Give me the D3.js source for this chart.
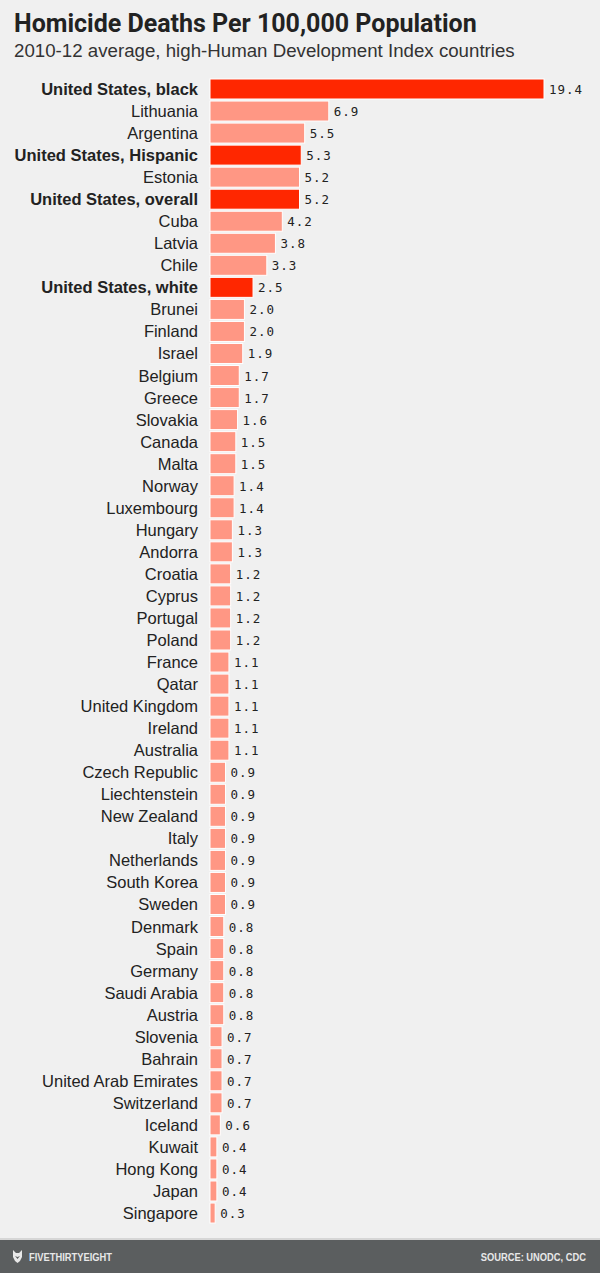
<!DOCTYPE html>
<html>
<head>
    <meta charset="utf-8">
    <title>Homicide Deaths Per 100,000 Population</title>
    <script src="https://cdn.jsdelivr.net/npm/d3@7/dist/d3.min.js"></script>
    <style>
        body { margin: 0; background: #f0f0f0; }
        svg { display: block; }
    </style>
</head>
<body>
<script>
// data
var countries = ["United States, black", "Lithuania", "Argentina", "United States, Hispanic", "Estonia",
    "United States, overall", "Cuba", "Latvia", "Chile", "United States, white", "Brunei", "Finland",
    "Israel", "Belgium", "Greece", "Slovakia", "Canada", "Malta", "Norway", "Luxembourg", "Hungary",
    "Andorra", "Croatia", "Cyprus", "Portugal", "Poland", "France", "Qatar", "United Kingdom", "Ireland",
    "Australia", "Czech Republic", "Liechtenstein", "New Zealand", "Italy", "Netherlands", "South Korea",
    "Sweden", "Denmark", "Spain", "Germany", "Saudi Arabia", "Austria", "Slovenia", "Bahrain",
    "United Arab Emirates", "Switzerland", "Iceland", "Kuwait", "Hong Kong", "Japan", "Singapore"];
var rates = [19.4, 6.9, 5.5, 5.3, 5.2, 5.2, 4.2, 3.8, 3.3, 2.5, 2.0, 2.0,
    1.9, 1.7, 1.7, 1.6, 1.5, 1.5, 1.4, 1.4, 1.3,
    1.3, 1.2, 1.2, 1.2, 1.2, 1.1, 1.1, 1.1, 1.1,
    1.1, 0.9, 0.9, 0.9, 0.9, 0.9, 0.9,
    0.9, 0.8, 0.8, 0.8, 0.8, 0.8, 0.7, 0.7,
    0.7, 0.7, 0.6, 0.4, 0.4, 0.4, 0.3];
var highlighted = ["United States, black", "United States, Hispanic", "United States, overall", "United States, white"];

var width = 600, height = 1273;
var rowStep = 22.04, barH = 20;
var data = countries.map(function (c, i) { return { name: c, value: rates[i] }; });

var svg = d3.select("body").append("svg")
    .attr("width", width)
    .attr("height", height);

svg.append("rect").attr("width", width).attr("height", height).attr("fill", "#f0f0f0");

// title block
svg.append("text")
    .attr("x", 14).attr("y", 32)
    .attr("font-family", "Roboto, 'Noto Sans', sans-serif")
    .attr("font-weight", 700)
    .attr("font-size", 25)
    .attr("fill", "#222")
    .text("Homicide Deaths Per 100,000 Population");

svg.append("text")
    .attr("x", 14).attr("y", 57)
    .attr("font-family", "'Liberation Sans', Arial, sans-serif")
    .attr("font-size", 18.7)
    .attr("fill", "#333")
    .text("2010-12 average, high-Human Development Index countries");

// scales
var x = d3.scaleLinear().domain([0, 19.4]).range([210, 544]);
var y = d3.scaleBand()
    .domain(countries)
    .range([79, 79 + rowStep * countries.length - (rowStep - barH)])
    .paddingInner((rowStep - barH) / rowStep)
    .paddingOuter(0);

var rows = svg.append("g").selectAll("g")
    .data(data)
    .enter().append("g");

rows.append("rect")
    .attr("x", x(0))
    .attr("y", function (d) { return y(d.name); })
    .attr("width", function (d) { return x(d.value) - x(0); })
    .attr("height", y.bandwidth())
    .attr("fill", function (d) { return highlighted.indexOf(d.name) >= 0 ? "#ff2700" : "#ff9784"; })
    .attr("stroke", "#fff")
    .attr("stroke-width", 1);

rows.append("text")
    .attr("x", 198)
    .attr("y", function (d) { return y(d.name) + y.bandwidth() / 2 + 6; })
    .attr("text-anchor", "end")
    .attr("font-family", "'Liberation Sans', Arial, sans-serif")
    .attr("font-size", 16.5)
    .attr("font-weight", function (d) { return highlighted.indexOf(d.name) >= 0 ? 700 : 400; })
    .attr("fill", "#222")
    .text(function (d) { return d.name; });

rows.append("text")
    .attr("x", function (d) { return x(d.value) + 5; })
    .attr("y", function (d) { return y(d.name) + y.bandwidth() / 2 + 5; })
    .attr("font-family", "'DejaVu Sans Mono', monospace")
    .attr("font-size", 12.5)
    .attr("letter-spacing", 1)
    .attr("fill", "#222")
    .text(function (d) { return d.value.toFixed(1); });

// footer
svg.append("rect").attr("x", 0).attr("y", 1238).attr("width", width).attr("height", 2).attr("fill", "#d6d6d6");
svg.append("rect").attr("x", 0).attr("y", 1240).attr("width", width).attr("height", 33).attr("fill", "#5b5e5f");

var logo = svg.append("g").attr("transform", "translate(13,1250)");
logo.append("path")
    .attr("d", "M0,0 L3,3 L6,3 L9,0 L9,7 L7,11 L4.5,13 L2,11 L0,7 Z")
    .attr("fill", "#e8e8e8");
logo.append("path")
    .attr("d", "M2,6 L4.5,9 L7,6 L4.5,7 Z")
    .attr("fill", "#5b5e5f");

svg.append("g")
    .attr("transform", "translate(29,1261) scale(0.82,1)")
    .append("text")
    .attr("font-family", "'Liberation Sans', Arial, sans-serif")
    .attr("font-weight", 700)
    .attr("font-size", 11.4)
    .attr("fill", "#e8e8e8")
    .text("FIVETHIRTYEIGHT");

svg.append("g")
    .attr("transform", "translate(586,1261) scale(0.82,1)")
    .append("text")
    .attr("text-anchor", "end")
    .attr("font-family", "'Liberation Sans', Arial, sans-serif")
    .attr("font-weight", 700)
    .attr("font-size", 11.4)
    .attr("fill", "#e8e8e8")
    .text("SOURCE: UNODC, CDC");
</script>
</body>
</html>
